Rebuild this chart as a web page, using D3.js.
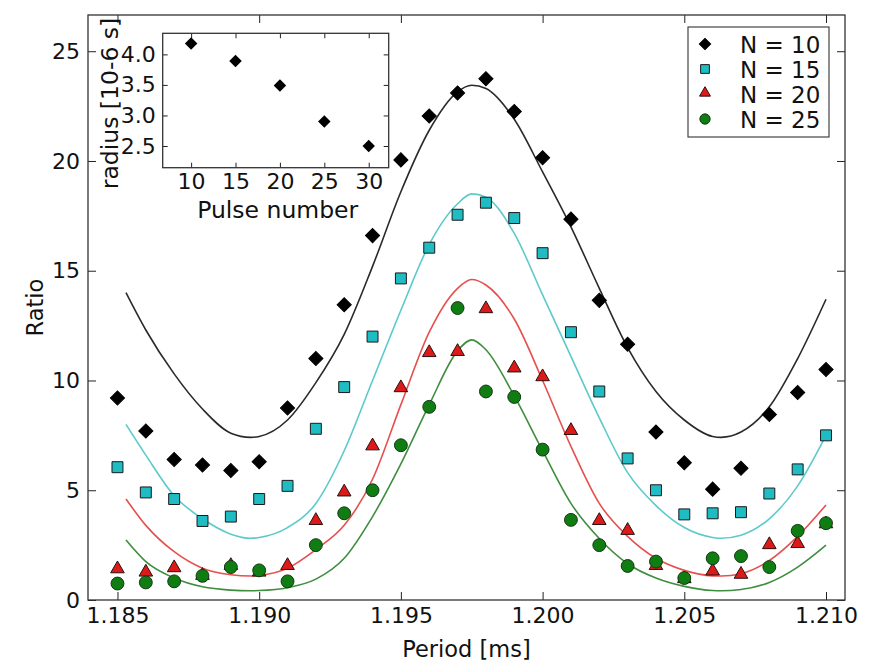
<!DOCTYPE html>
<html lang="en">
<head>
<meta charset="utf-8">
<title>Ratio vs period</title>
<script src="https://d3js.org/d3.v7.min.js"></script>
<style>
  body { margin: 0; background: #fff; }
  svg { display: block; font-family: "DejaVu Sans", sans-serif; }
</style>
</head>
<body>
<script>

// measured points
var period = [1.185, 1.186, 1.187, 1.188, 1.189, 1.190, 1.191, 1.192, 1.193, 1.194, 1.195, 1.196, 1.197,
              1.198, 1.199, 1.200, 1.201, 1.202, 1.203, 1.204, 1.205, 1.206, 1.207, 1.208, 1.209, 1.210];
var ratioN10 = [9.2, 7.7, 6.4, 6.15, 5.9, 6.3, 8.75, 11.0, 13.45, 16.6, 20.05, 22.05, 23.1,
                23.75, 22.25, 20.15, 17.35, 13.65, 11.65, 7.65, 6.25, 5.05, 6.0, 8.45, 9.45, 10.5];
var ratioN15 = [6.05, 4.9, 4.6, 3.6, 3.8, 4.6, 5.2, 7.8, 9.7, 12.0, 14.65, 16.05, 17.55,
                18.1, 17.4, 15.8, 12.2, 9.5, 6.45, 5.0, 3.9, 3.95, 4.0, 4.85, 5.95, 7.5];
var ratioN20 = [1.35, 1.2, 1.4, 1.05, 1.5, 1.2, 1.5, 3.55, 4.85, 6.95, 9.6, 11.2, 11.25,
                13.2, 10.5, 10.1, 7.65, 3.55, 3.1, 1.5, 0.9, 1.25, 1.1, 2.45, 2.5, 3.4];
var ratioN25 = [0.75, 0.8, 0.85, 1.1, 1.5, 1.35, 0.85, 2.5, 3.95, 5.0, 7.05, 8.8, 13.3,
                9.5, 9.25, 6.85, 3.65, 2.5, 1.55, 1.75, 1.0, 1.9, 2.0, 1.5, 3.15, 3.5];

// fitted curves as [period, ratio]
var fitN10 = [[1.1853, 14.0], [1.186, 12.3], [1.187, 10.3], [1.188, 8.7], [1.189, 7.6], [1.1897, 7.41],
              [1.190, 7.45], [1.191, 8.2], [1.192, 9.9], [1.193, 12.1], [1.194, 15.2], [1.195, 18.6],
              [1.196, 21.4], [1.197, 23.15], [1.1975, 23.45], [1.198, 23.3], [1.199, 21.9], [1.200, 19.5],
              [1.201, 17.0], [1.202, 14.2], [1.203, 11.5], [1.204, 9.5], [1.205, 8.2], [1.206, 7.45],
              [1.2063, 7.41], [1.207, 7.65], [1.208, 8.8], [1.209, 11.0], [1.210, 13.7]];
var fitN15 = [[1.1853, 8.0], [1.186, 6.6], [1.187, 4.75], [1.188, 3.7], [1.189, 3.0], [1.1897, 2.81],
              [1.190, 2.85], [1.191, 3.3], [1.192, 4.4], [1.193, 6.8], [1.194, 10.0], [1.195, 13.2],
              [1.196, 16.2], [1.197, 18.05], [1.1975, 18.5], [1.198, 18.35], [1.199, 16.7], [1.200, 13.9],
              [1.201, 11.1], [1.202, 8.3], [1.203, 5.8], [1.204, 4.3], [1.205, 3.3], [1.206, 2.85],
              [1.2063, 2.81], [1.207, 2.95], [1.208, 3.7], [1.209, 5.2], [1.210, 7.5]];
var fitN20 = [[1.1853, 4.6], [1.186, 3.4], [1.187, 2.2], [1.188, 1.45], [1.189, 1.15], [1.1897, 1.09],
              [1.190, 1.12], [1.191, 1.45], [1.192, 2.3], [1.193, 3.4], [1.194, 5.5], [1.195, 8.9],
              [1.196, 12.2], [1.197, 14.2], [1.1975, 14.6], [1.198, 14.35], [1.199, 12.8], [1.200, 10.0],
              [1.201, 7.0], [1.202, 4.4], [1.203, 2.9], [1.204, 1.9], [1.205, 1.35], [1.206, 1.1],
              [1.2063, 1.09], [1.207, 1.2], [1.208, 1.8], [1.209, 2.9], [1.210, 4.33]];
var fitN25 = [[1.1853, 2.73], [1.186, 1.75], [1.187, 1.0], [1.188, 0.6], [1.189, 0.45], [1.1897, 0.42],
              [1.190, 0.43], [1.191, 0.56], [1.192, 0.95], [1.193, 1.9], [1.194, 3.8], [1.195, 6.2],
              [1.196, 8.9], [1.197, 11.35], [1.1975, 11.85], [1.198, 11.4], [1.199, 9.3], [1.200, 6.8],
              [1.201, 4.4], [1.202, 2.8], [1.203, 1.65], [1.204, 1.0], [1.205, 0.62], [1.206, 0.43],
              [1.2063, 0.42], [1.207, 0.48], [1.208, 0.8], [1.209, 1.5], [1.210, 2.5]];

var seriesLabels = ["N = 10", "N = 15", "N = 20", "N = 25"];
var xTicks = [1.185, 1.190, 1.195, 1.200, 1.205, 1.210];
var yTicks = [0, 5, 10, 15, 20, 25];

// inset
var pulseNumber = [10, 15, 20, 25, 30];
var radius = [4.18, 3.89, 3.49, 2.90, 2.50];
var insetXTicks = [10, 15, 20, 25, 30];
var insetYTicks = [2.5, 3.0, 3.5, 4.0];

var w = 869, h = 664;
var pLeft = 88, pRight = 845, pTop = 15, pBottom = 600;

var svg = d3.select("body").append("svg").attr("width", w).attr("height", h);

var x = d3.scaleLinear().domain([1.18396, 1.21067]).range([pLeft, pRight]);
var y = d3.scaleLinear().domain([0, 26.65]).range([pBottom, pTop]);

var styles = [
  {shape: "diamond", fill: "#000", stroke: "#000", line: "#2a2a2a", data: ratioN10, fit: fitN10},
  {shape: "square", fill: "#1fbcc4", stroke: "#1a1a1a", line: "#5ccaca", data: ratioN15, fit: fitN15},
  {shape: "triangle", fill: "#dc1a1a", stroke: "#2a1010", line: "#e5504f", data: ratioN20, fit: fitN20},
  {shape: "circle", fill: "#0f7d12", stroke: "#143814", line: "#3f8d3f", data: ratioN25, fit: fitN25}
];

function symbolPath(shape, scale) {
  var t, size;
  if (shape == "diamond") { t = d3.symbolSquare; size = 100; }
  if (shape == "square") { t = d3.symbolSquare; size = 120; }
  if (shape == "triangle") { t = d3.symbolTriangle; size = 80; }
  if (shape == "circle") { t = d3.symbolCircle; size = 130; }
  return d3.symbol().type(t).size(size * scale * scale)();
}
function symbolRot(shape) { return shape == "diamond" ? " rotate(45)" : ""; }

// fit lines
var line = d3.line()
  .x(function(d) { return x(d[0]); })
  .y(function(d) { return y(d[1]); })
  .curve(d3.curveMonotoneX);

styles.forEach(function(s) {
  svg.append("path").attr("d", line(s.fit))
    .attr("fill", "none").attr("stroke", s.line).attr("stroke-width", 1.6);
});

// markers
styles.forEach(function(s) {
  svg.append("g").selectAll("path")
    .data(s.data)
    .enter()
    .append("path")
    .attr("d", symbolPath(s.shape, 1))
    .attr("transform", function(d, i) {
      var dy = s.shape == "triangle" ? -1.5 : 0;
      return "translate(" + x(period[i]) + "," + (y(d) + dy) + ")" + symbolRot(s.shape);
    })
    .attr("fill", s.fill)
    .attr("stroke", s.stroke)
    .attr("stroke-width", 1);
});

// axes: ticks point inward on all four sides
function styleAxis(g) {
  g.select(".domain").remove();
  g.selectAll(".tick line").attr("stroke", "#222").attr("stroke-width", 1);
  g.selectAll(".tick text").attr("fill", "#111").style("font-size", "22px");
}

svg.append("g").attr("transform", "translate(0," + pBottom + ")")
  .call(d3.axisBottom(x).tickValues(xTicks).tickFormat(d3.format(".3f")).tickSizeInner(-8).tickSizeOuter(0).tickPadding(7))
  .attr("font-family", null).call(styleAxis);
svg.append("g").attr("transform", "translate(0," + pTop + ")")
  .call(d3.axisTop(x).tickValues(xTicks).tickFormat("").tickSizeInner(-8).tickSizeOuter(0))
  .call(styleAxis);
svg.append("g").attr("transform", "translate(" + pLeft + ",0)")
  .call(d3.axisLeft(y).tickValues(yTicks).tickFormat(d3.format("d")).tickSizeInner(-8).tickSizeOuter(0).tickPadding(8))
  .attr("font-family", null).call(styleAxis);
svg.append("g").attr("transform", "translate(" + pRight + ",0)")
  .call(d3.axisRight(y).tickValues(yTicks).tickFormat("").tickSizeInner(-8).tickSizeOuter(0))
  .call(styleAxis);

svg.append("rect")
  .attr("x", pLeft).attr("y", pTop).attr("width", pRight - pLeft).attr("height", pBottom - pTop)
  .attr("fill", "none").attr("stroke", "#333").attr("stroke-width", 1.3);

svg.append("text").attr("x", (pLeft + pRight) / 2).attr("y", 657)
  .attr("text-anchor", "middle").style("font-size", "22.5px").attr("fill", "#111")
  .text("Period [ms]");
svg.append("text").attr("transform", "translate(43," + (pTop + pBottom) / 2 + ") rotate(-90)")
  .attr("text-anchor", "middle").style("font-size", "22.5px").attr("fill", "#111")
  .text("Ratio");

// legend
var lg = svg.append("g");
lg.append("rect").attr("x", 688).attr("y", 27).attr("width", 141).attr("height", 110)
  .attr("fill", "#fff").attr("stroke", "#444").attr("stroke-width", 1.2);
styles.forEach(function(s, i) {
  var ry = 44 + i * 25;
  lg.append("path").attr("d", symbolPath(s.shape, 0.8))
    .attr("transform", "translate(705," + (ry + (s.shape == "triangle" ? -1 : 0)) + ")" + symbolRot(s.shape))
    .attr("fill", s.fill).attr("stroke", s.stroke).attr("stroke-width", 1);
  lg.append("text").attr("x", 740).attr("y", ry + 8.5)
    .style("font-size", "23px").attr("fill", "#111").text(seriesLabels[i]);
});

// inset
var il = 162.7, ir = 388.7, it = 33.3, ib = 167.7;
var ix = d3.scaleLinear().domain([6.8, 32.25]).range([il, ir]);
var iy = d3.scaleLinear().domain([2.145, 4.345]).range([ib, it]);

svg.append("rect").attr("x", il).attr("y", it).attr("width", ir - il).attr("height", ib - it)
  .attr("fill", "#fff");

function styleInset(g) {
  g.select(".domain").remove();
  g.selectAll(".tick line").attr("stroke", "#222").attr("stroke-width", 1);
  g.selectAll(".tick text").attr("fill", "#111").style("font-size", "22px");
}
svg.append("g").attr("transform", "translate(0," + ib + ")")
  .call(d3.axisBottom(ix).tickValues(insetXTicks).tickFormat(d3.format("d")).tickSizeInner(-5).tickSizeOuter(0).tickPadding(6))
  .attr("font-family", null).call(styleInset);
svg.append("g").attr("transform", "translate(0," + it + ")")
  .call(d3.axisTop(ix).tickValues(insetXTicks).tickFormat("").tickSizeInner(-5).tickSizeOuter(0))
  .call(styleInset);
svg.append("g").attr("transform", "translate(" + il + ",0)")
  .call(d3.axisLeft(iy).tickValues(insetYTicks).tickFormat(d3.format(".1f")).tickSizeInner(-5).tickSizeOuter(0).tickPadding(7))
  .attr("font-family", null).call(styleInset);
svg.append("g").attr("transform", "translate(" + ir + ",0)")
  .call(d3.axisRight(iy).tickValues(insetYTicks).tickFormat("").tickSizeInner(-5).tickSizeOuter(0))
  .call(styleInset);

svg.append("g").selectAll("path")
  .data(radius)
  .enter()
  .append("path")
  .attr("d", d3.symbol().type(d3.symbolSquare).size(78)())
  .attr("transform", function(d, i) { return "translate(" + ix(pulseNumber[i]) + "," + iy(d) + ") rotate(45)"; })
  .attr("fill", "#000");

svg.append("rect").attr("x", il).attr("y", it).attr("width", ir - il).attr("height", ib - it)
  .attr("fill", "none").attr("stroke", "#333").attr("stroke-width", 1.3);

svg.append("text").attr("x", (il + ir) / 2 + 2).attr("y", 218)
  .attr("text-anchor", "middle").style("font-size", "23.5px").attr("fill", "#111")
  .text("Pulse number");
svg.append("text").attr("transform", "translate(118," + ((it + ib) / 2 + 3) + ") rotate(-90)")
  .attr("text-anchor", "middle").style("font-size", "23.5px").attr("fill", "#111")
  .text("radius [10-6 s]");

</script>
</body>
</html>
